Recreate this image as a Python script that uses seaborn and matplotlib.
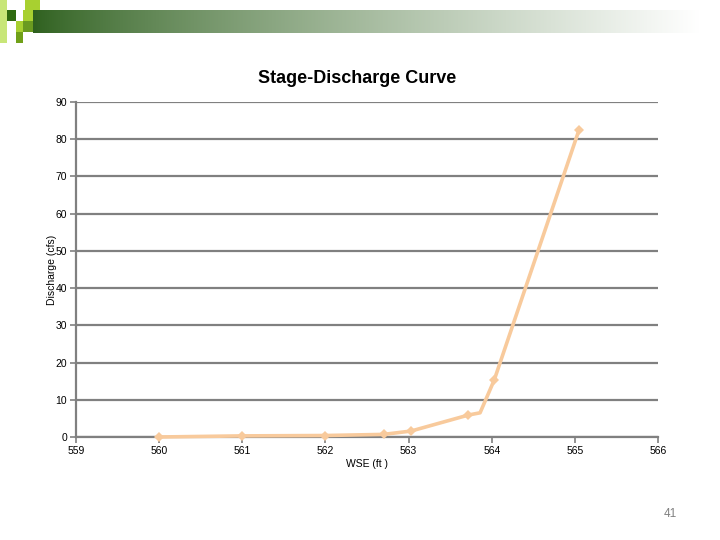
import numpy as np
import pandas as pd
import matplotlib
matplotlib.use("Agg")
import matplotlib.pyplot as plt
import seaborn as sns
from matplotlib.patches import Rectangle

# Data
wse = [560.0, 561.0, 562.0, 562.7, 563.03, 563.72, 563.86, 564.03, 565.05]
discharge = [0.0, 0.3, 0.4, 0.7, 1.6, 5.9, 6.5, 15.3, 82.5]
marker_idx = [0, 1, 2, 3, 4, 5, 7, 8]
x_ticks = [559, 560, 561, 562, 563, 564, 565, 566]
y_ticks = [0, 10, 20, 30, 40, 50, 60, 70, 80, 90]

sns.set_theme(style="white")
plt.rcParams['font.family'] = ['Liberation Sans', 'DejaVu Sans']

fig = plt.figure(figsize=(7.2, 5.4), dpi=100)

# header gradient bar
gax = fig.add_axes([33/720, 1 - 33/540, 1 - 33/720, 23/540])
grad = np.linspace(0, 1, 512)
c0 = np.array([0x2e, 0x60, 0x1e]) / 255
c1 = np.array([1.0, 1.0, 1.0])
t = np.clip(grad / 0.97, 0, 1) ** 0.8
img = (c0[None, :] * (1 - t[:, None]) + c1[None, :] * t[:, None])[None, :, :]
gax.imshow(img, aspect='auto', extent=[0, 1, 0, 1])
gax.axis('off')

def sq(x, y, w, h, c):
    fig.add_artist(Rectangle((x/720, 1 - (y+h)/540), w/720, h/540,
                             transform=fig.transFigure, color=c, lw=0, zorder=5))

sq(0, 0, 7, 43, '#c8e678')
sq(7, 10, 9, 11, '#2f6a10')
sq(25, 0, 15, 10, '#a8d030')
sq(23, 10, 10, 11, '#a8d030')
sq(16, 21, 7, 11, '#a8d030')
sq(23, 21, 10, 11, '#6a9a20')
sq(16, 32, 7, 11, '#70a018')

ax = fig.add_axes([76/720, 1 - 437/540, (658-76)/720, (437-102)/540])
df = pd.DataFrame({"WSE": wse, "Discharge": discharge})
sns.lineplot(data=df, x="WSE", y="Discharge", sort=False, ax=ax,
             color='#f8ca9c', lw=2.6, marker='D', markersize=5.5,
             markevery=marker_idx, markeredgewidth=0, zorder=3, clip_on=False)

ax.set_xlim(559, 566)
ax.set_ylim(0, 90)
ax.set_xticks(x_ticks)
ax.set_yticks(y_ticks)
ax.yaxis.grid(True, color='#808080', lw=1.6)
ax.xaxis.grid(False)
for s in ['top', 'right']:
    ax.spines[s].set_visible(False)
for s in ['left', 'bottom']:
    ax.spines[s].set_color('#808080')
    ax.spines[s].set_linewidth(1.6)
ax.tick_params(axis='both', which='major', length=4, width=1.2, color='#808080',
               labelsize=7.5, labelcolor='black', direction='out',
               bottom=True, left=True, pad=2.5)
ax.set_xlabel("WSE (ft )", fontsize=7.5, color='black', labelpad=2)
ax.set_ylabel("Discharge (cfs)", fontsize=7.5, color='black')
ax.yaxis.set_label_coords(-0.033, 0.5)
ax.set_title("Stage-Discharge Curve", fontsize=13, fontweight='bold',
             color='black', pad=14, x=0.483)

fig.text(670/720, 1 - 514/540, "41", fontsize=8.5, color='#808080',
         ha='center', va='center')

fig.savefig("out.png", dpi=100)
